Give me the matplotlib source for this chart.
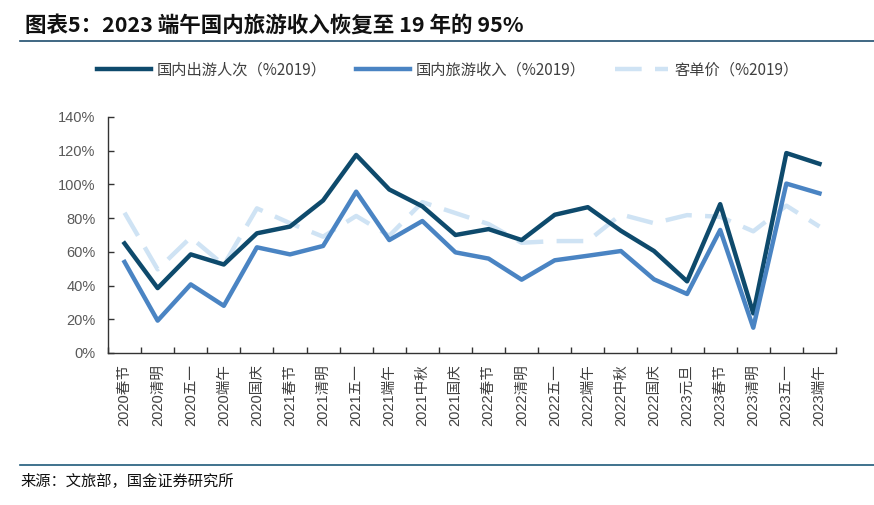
import matplotlib
matplotlib.use("Agg")
import matplotlib.pyplot as plt
from matplotlib.ticker import FixedLocator, FuncFormatter

plt.rcParams['font.family'] = ['Liberation Sans', 'Noto Sans CJK SC', 'DejaVu Sans']

categories = ["2020春节", "2020清明", "2020五一", "2020端午", "2020国庆",
              "2021春节", "2021清明", "2021五一", "2021端午", "2021中秋", "2021国庆",
              "2022春节", "2022清明", "2022五一", "2022端午", "2022中秋", "2022国庆",
              "2023元旦", "2023春节", "2023清明", "2023五一", "2023端午"]

trips = [65, 38.5, 58.5, 52.5, 71, 75, 90.5, 117.5, 97, 87, 70,
         73.5, 67, 82, 86.5, 72.5, 60.5, 42.5, 88.3, 23.5, 118.6, 112.2]
revenue = [54, 19.2, 40.7, 28, 62.7, 58.5, 63.5, 95.7, 67, 78.3, 59.7,
           56, 43.5, 55, 57.7, 60.5, 43.7, 35, 73, 15, 100.5, 94.7]
per_capita = [83.2, 49.6, 68.6, 52.2, 85.8, 77, 69, 81.3, 69.5, 89.5, 83,
              76.5, 65.4, 66.4, 66.4, 82.2, 77, 81.8, 80.8, 72.2, 87.4, 75]

series_names = ["国内出游人次（%2019）", "国内旅游收入（%2019）", "客单价（%2019）"]
colors = ["#0E4A6C", "#4A84C3", "#CFE3F4"]

fig = plt.figure(figsize=(8.74, 5.05), dpi=100)
ax = fig.add_axes([108/874, 1-353/505, 728/874, 236/505])

x = list(range(len(categories)))
l3, = ax.plot(x, per_capita, color=colors[2], lw=3.2, dashes=(6, 3), label=series_names[2], zorder=2)
l1, = ax.plot(x, trips, color=colors[0], lw=3.2, label=series_names[0], zorder=3)
l2, = ax.plot(x, revenue, color=colors[1], lw=3.2, label=series_names[1], zorder=3)

ax.set_xlim(-0.5, len(categories)-0.5)
ax.set_ylim(0, 140)
ax.set_yticks(range(0, 141, 20))
ax.yaxis.set_major_formatter(FuncFormatter(lambda v, p: f"{int(v)}%"))
ax.set_xticks(x)
ax.set_xticklabels(categories, rotation=90)
ax.xaxis.set_minor_locator(FixedLocator([i - 0.5 for i in range(len(categories)+1)]))
ax.tick_params(axis='x', which='major', length=0, pad=8, labelsize=10.5, labelcolor='#404040')
ax.tick_params(axis='x', which='minor', length=4, direction='in', width=1, color='#333333')
ax.tick_params(axis='y', which='major', length=4, direction='in', width=1, color='#333333',
               labelsize=10.5, labelcolor='#595959', pad=9)
for s in ['top', 'right']:
    ax.spines[s].set_visible(False)
for s in ['left', 'bottom']:
    ax.spines[s].set_color('#333333')
    ax.spines[s].set_linewidth(1)

leg = fig.legend([l1, l2, l3], series_names, loc='center', bbox_to_anchor=(448/874, 1-70/505),
                 ncol=3, frameon=False, handlelength=3.5, handletextpad=0.4, columnspacing=1.9,
                 prop={'family': ['Noto Sans CJK SC', 'DejaVu Sans'], 'size': 11})
for t in leg.get_texts():
    t.set_color('#404040')

fig.text(25/874, 1-25/505, "图表5：2023 端午国内旅游收入恢复至 19 年的 95%", ha='left', va='center',
         fontsize=15.5, fontweight='bold', style='italic',
         family=['Noto Sans CJK SC', 'DejaVu Sans'], color='#111111')
fig.add_artist(plt.Line2D([20/874, 1], [1-41/505, 1-41/505], transform=fig.transFigure,
                          color='#1F4E6E', lw=1.2))
fig.add_artist(plt.Line2D([20/874, 1], [1-465/505, 1-465/505], transform=fig.transFigure,
                          color='#1F5A7A', lw=1.2))
fig.text(20/874, 1-481/505, "来源：文旅部，国金证券研究所", ha='left', va='center',
         fontsize=11, family=['Noto Sans CJK SC', 'DejaVu Sans'], color='#111111')

fig.savefig("out.png", dpi=100)
